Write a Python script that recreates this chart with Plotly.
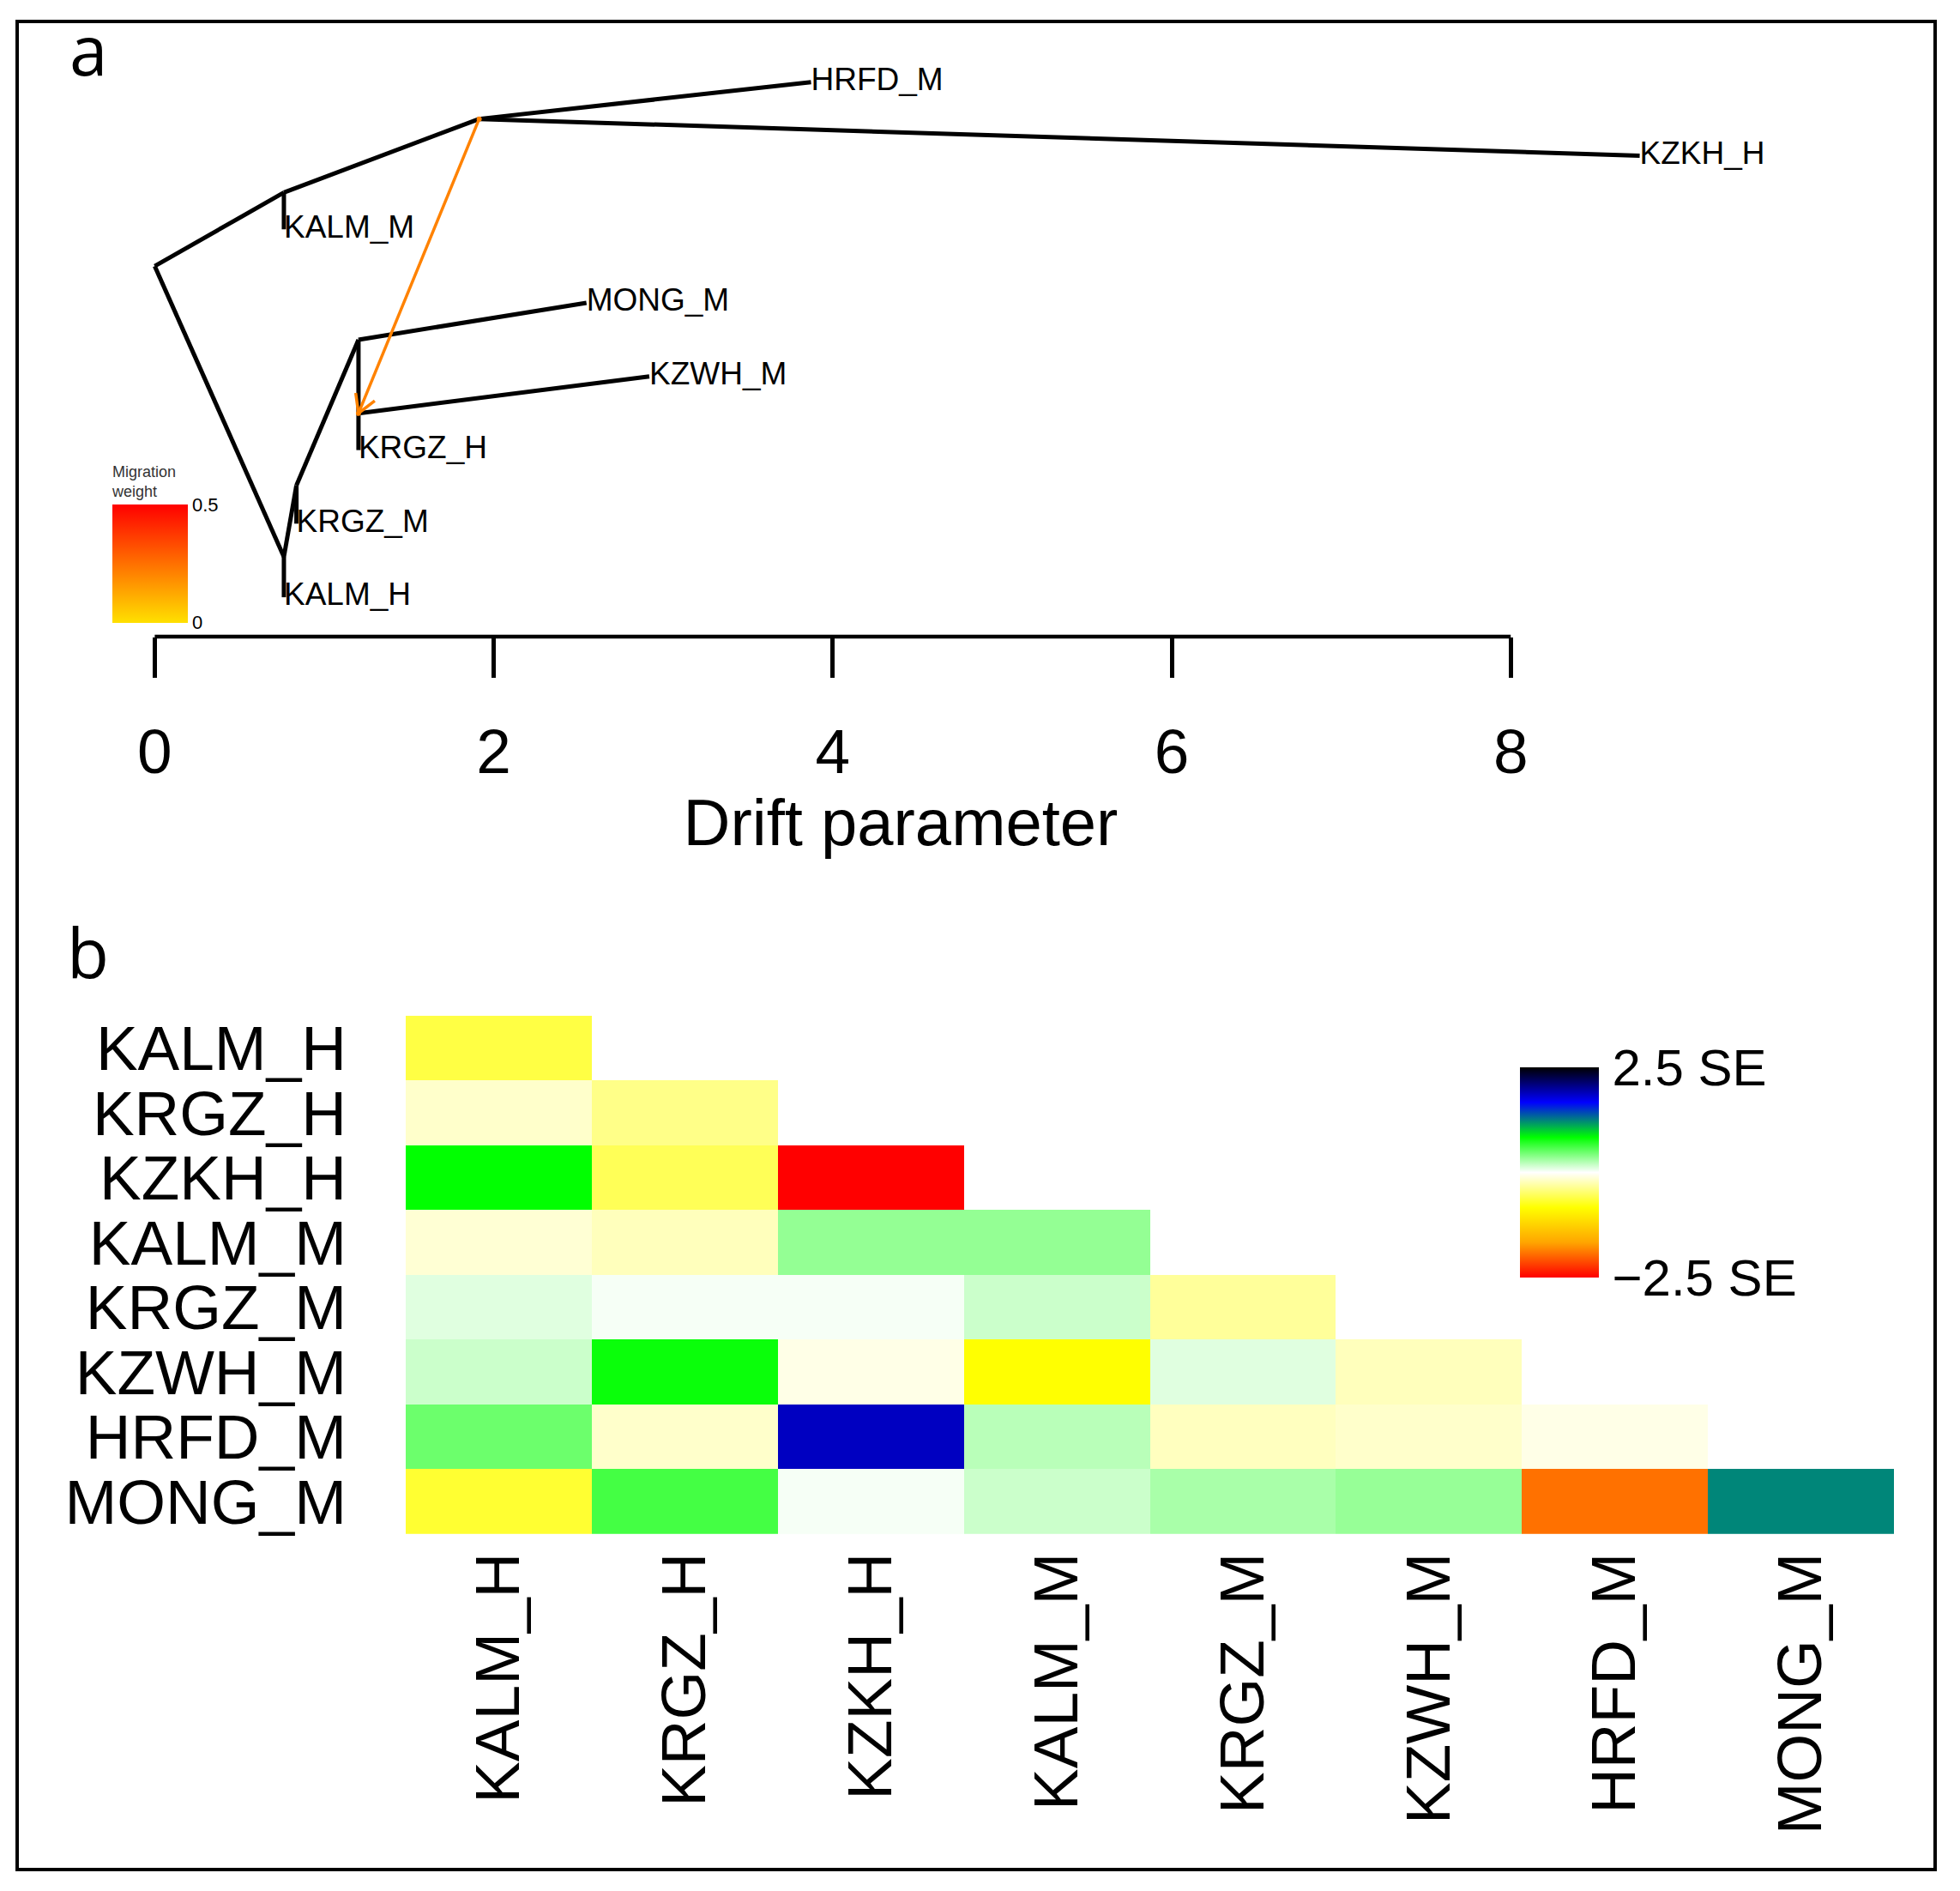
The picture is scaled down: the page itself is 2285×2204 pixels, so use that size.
import math
import plotly.graph_objects as go
from plotly.colors import sample_colorscale

W, H = 2285, 2204

# ---------------- Panel a: TreeMix tree ----------------
leaf_names = ["HRFD_M", "KZKH_H", "KALM_M", "MONG_M", "KZWH_M", "KRGZ_H", "KRGZ_M", "KALM_H"]
leaf_drift = [3.872, 8.761, 0.762, 2.547, 2.918, 1.202, 0.836, 0.762]
leaf_row = [7, 6, 5, 4, 3, 2, 1, 0]

node_names = ["root", "A", "B", "C", "D", "E", "F"]
node_drift = [0.0, 0.762, 1.914, 0.762, 0.836, 1.202, 1.202]
node_row = [4.5, 5.5, 6.5, 0.55, 1.52, 3.5, 2.5]

edge_parent = ["root", "root", "A", "A", "B", "B", "C", "C", "D", "D", "E", "E", "F", "F"]
edge_child = ["A", "C", "KALM_M", "B", "HRFD_M", "KZKH_H", "KALM_H", "D", "KRGZ_M", "E",
              "MONG_M", "F", "KZWH_M", "KRGZ_H"]

mig_source = "B"
mig_target = "F"
mig_weight = 0.21
mig_range = [0, 0.5]
mig_colorscale = [[0, "rgb(255,224,0)"], [1, "rgb(255,0,0)"]]

drift_ticks = [0, 2, 4, 6, 8]

# ---------------- Panel b: residual heatmap ----------------
pops = ["KALM_H", "KRGZ_H", "KZKH_H", "KALM_M", "KRGZ_M", "KZWH_M", "HRFD_M", "MONG_M"]
resid_KALM_H = [-0.61]
resid_KRGZ_H = [-0.17, -0.39]
resid_KZKH_H = [0.83, -0.55, -2.5]
resid_KALM_M = [-0.14, -0.22, 0.35, 0.35]
resid_KRGZ_M = [0.10, 0.03, 0.03, 0.17, -0.33]
resid_KZWH_M = [0.17, 0.80, -0.08, -0.83, 0.10, -0.22]
resid_HRFD_M = [0.48, -0.17, 1.87, 0.23, -0.21, -0.17, -0.08]
resid_MONG_M = [-0.67, 0.61, 0.03, 0.17, 0.28, 0.34, -1.93, 1.23]
resid_rows = [resid_KALM_H, resid_KRGZ_H, resid_KZKH_H, resid_KALM_M,
              resid_KRGZ_M, resid_KZWH_M, resid_HRFD_M, resid_MONG_M]
se_limit = 2.5
resid_colorscale = [[0, "rgb(255,0,0)"], [1/6, "rgb(255,165,0)"], [2/6, "rgb(255,255,0)"],
                    [0.5, "rgb(255,255,255)"], [4/6, "rgb(0,255,0)"], [5/6, "rgb(0,0,255)"],
                    [1, "rgb(0,0,0)"]]

# ---------------- geometry of panel a (pixel scale) ----------------
x0_px = 180.4          # pixel of drift 0
ppd = 197.6            # pixels per drift unit
row0_px = 695.0        # pixel of row 0
ppr = 86.0             # pixels per row
axis_px = 741.0        # axis line pixel
xdom_right = 2100.0

x_range = [-x0_px / ppd, (xdom_right - x0_px) / ppd]
y_range = [(row0_px - axis_px) / ppr, row0_px / ppr]

pos = {}
for n, d, r in zip(node_names, node_drift, node_row):
    pos[n] = (d, r)
for n, d, r in zip(leaf_names, leaf_drift, leaf_row):
    pos[n] = (d, r)

ex, ey = [], []
for p, c in zip(edge_parent, edge_child):
    ex += [pos[p][0], pos[c][0], None]
    ey += [pos[p][1], pos[c][1], None]

fig = go.Figure()
fig.add_trace(go.Scatter(x=ex, y=ey, mode="lines", line=dict(color="black", width=5),
                         xaxis="x", yaxis="y", hoverinfo="skip"))
fig.add_trace(go.Scatter(x=leaf_drift, y=leaf_row, mode="text", text=leaf_names,
                         textposition="middle right", cliponaxis=False,
                         textfont=dict(family="Liberation Sans, Arial", size=37, color="black"),
                         xaxis="x", yaxis="y", hoverinfo="skip"))

# migration arrow
mig_color = sample_colorscale(mig_colorscale, [(mig_weight - mig_range[0]) / (mig_range[1] - mig_range[0])])[0]
sx, sy = pos[mig_source]
tx, ty = pos[mig_target]


def to_px(d, r):
    return x0_px + d * ppd, row0_px - r * ppr


def from_px(px, py):
    return (px - x0_px) / ppd, (row0_px - py) / ppr


spx, spy = to_px(sx, sy)
tpx, tpy = to_px(tx, ty)
L = math.hypot(tpx - spx, tpy - spy)
bx, by = (spx - tpx) / L, (spy - tpy) / L
arm = 24.0
heads = []
for ang in (math.radians(30), -math.radians(30)):
    hx = bx * math.cos(ang) - by * math.sin(ang)
    hy = bx * math.sin(ang) + by * math.cos(ang)
    heads.append(from_px(tpx + arm * hx, tpy + arm * hy))

fig.add_trace(go.Scatter(
    x=[sx, tx], y=[sy, ty], mode="lines+markers",
    line=dict(color=mig_color, width=3.5),
    marker=dict(size=0, color=[mig_weight, mig_weight], colorscale=mig_colorscale,
                cmin=mig_range[0], cmax=mig_range[1], showscale=True,
                colorbar=dict(x=131 / W, xanchor="left", y=1 - 538 / H, yanchor="top",
                              len=186, lenmode="pixels", thickness=88, thicknessmode="pixels",
                              xpad=0, ypad=0, outlinewidth=0, borderwidth=0,
                              tickvals=mig_range, ticktext=["0", "0.5"], ticks="",
                              tickfont=dict(family="Liberation Sans, Arial", size=22, color="black"),
                              title=dict(text="Migration<br>weight", side="top",
                                         font=dict(family="Liberation Sans, Arial", size=18,
                                                   color="#333333")))),
    xaxis="x", yaxis="y", hoverinfo="skip"))
fig.add_trace(go.Scatter(x=[heads[0][0], tx, heads[1][0]], y=[heads[0][1], ty, heads[1][1]],
                         mode="lines", line=dict(color=mig_color, width=3.5),
                         xaxis="x", yaxis="y", hoverinfo="skip"))

# ---------------- heatmap ----------------
n = len(pops)
z = [row + [None] * (n - len(row)) for row in resid_rows]
fig.add_trace(go.Heatmap(
    z=z, x=pops, y=pops, xaxis="x2", yaxis="y2",
    colorscale=resid_colorscale, zmin=-se_limit, zmax=se_limit, hoverongaps=False,
    colorbar=dict(x=1771.7 / W, xanchor="left", y=1 - 1244 / H, yanchor="top",
                  len=245, lenmode="pixels", thickness=92, thicknessmode="pixels",
                  xpad=0, ypad=0, outlinewidth=0, borderwidth=0,
                  tickvals=[-se_limit, se_limit], ticktext=["\u22122.5 SE", "2.5 SE"],
                  ticks="outside", ticklen=4, tickcolor="rgba(0,0,0,0)",
                  tickfont=dict(family="Liberation Sans, Arial", size=60, color="black"))))

fig.update_layout(
    width=W, height=H, margin=dict(l=0, r=0, t=0, b=0),
    paper_bgcolor="white", plot_bgcolor="white", showlegend=False,
    xaxis=dict(domain=[0, xdom_right / W], range=x_range, showgrid=False, zeroline=False,
               showline=False, tickvals=drift_ticks, ticks="outside", ticklen=47, tickwidth=4.5,
               tickcolor="black", ticklabelstandoff=23,
               tickfont=dict(family="Liberation Sans, Arial", size=73, color="black"),
               title=dict(text="Drift parameter", standoff=8,
                          font=dict(family="Liberation Sans, Arial", size=76, color="black")),
               anchor="y"),
    yaxis=dict(domain=[1 - axis_px / H, 1], range=y_range, visible=False, anchor="x"),
    xaxis2=dict(domain=[473 / W, 2208 / W], anchor="y2", type="category", categoryarray=pops,
                tickmode="array", tickvals=pops, ticktext=pops,
                showgrid=False, zeroline=False, showline=False, ticks="", tickangle=-90,
                ticklabelstandoff=6,
                tickfont=dict(family="Liberation Sans, Arial", size=73, color="black")),
    yaxis2=dict(domain=[1 - 1790 / H, 1 - 1184 / H], anchor="x2", type="category",
                categoryarray=pops, tickmode="array", tickvals=pops, ticktext=pops,
                autorange="reversed", showgrid=False, zeroline=False,
                showline=False, ticks="", ticklabelstandoff=68,
                tickfont=dict(family="Liberation Sans, Arial", size=73, color="black")),
)

# axis line spanning the tick range of panel a
fig.add_shape(type="line", xref="x", yref="y domain", x0=drift_ticks[0], x1=drift_ticks[-1],
              y0=0, y1=0, line=dict(color="black", width=4.5))
# outer frame
fig.add_shape(type="rect", xref="paper", yref="paper", x0=20 / W, x1=2256 / W,
              y0=1 - 2182 / H, y1=1 - 22 / H, line=dict(color="black", width=4))

for lab, px, py in (("a", 103, 54), ("b", 102, 1109)):
    fig.add_annotation(text=lab, xref="paper", yref="paper", x=px / W, y=1 - py / H,
                       xanchor="center", yanchor="middle", showarrow=False,
                       font=dict(family="Open Sans", size=80, color="black"))

fig.write_html("out.html", config={"displayModeBar": False},
               post_script="document.body.style.margin='0px';")
